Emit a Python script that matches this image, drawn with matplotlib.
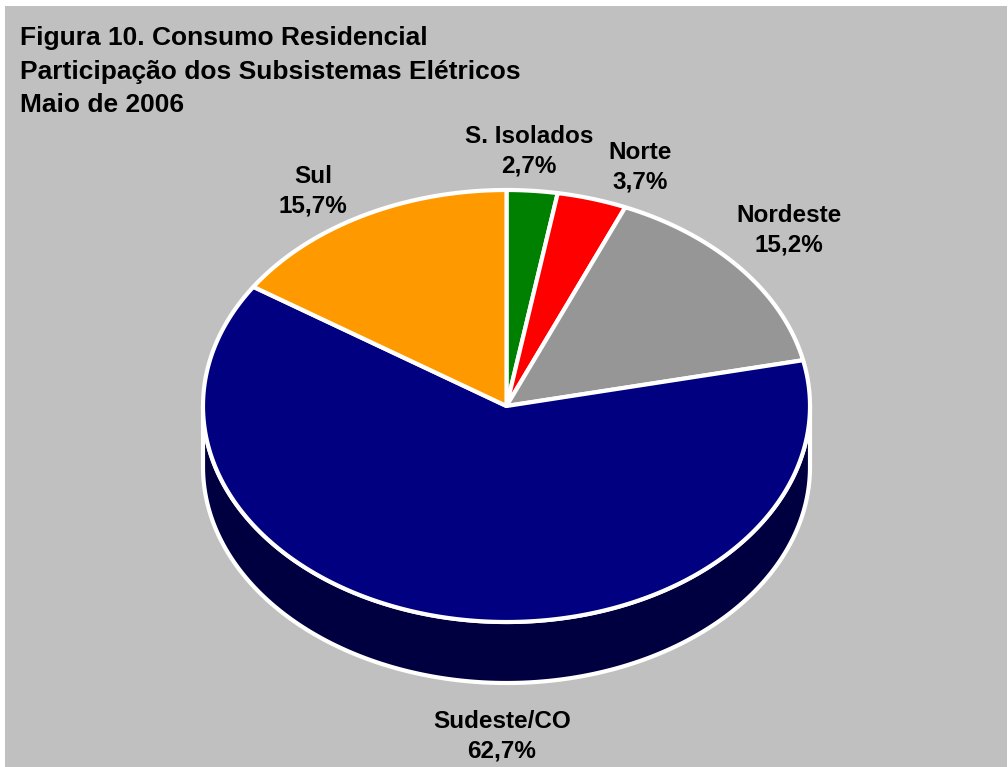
import numpy as np
import matplotlib
matplotlib.use("Agg")
import matplotlib.pyplot as plt
from matplotlib.patches import Polygon, Rectangle

# Residential consumption share by electric subsystem, May 2006
categories = ["S. Isolados", "Norte", "Nordeste", "Sudeste/CO", "Sul"]
shares = [2.7, 3.7, 15.2, 62.7, 15.7]
colors = ["#008000", "#FF0000", "#969696", "#000080", "#FF9900"]
side_colors = ["#004000", "#800000", "#4B4B4B", "#000040", "#804C00"]
title_lines = ["Figura 10. Consumo Residencial",
               "Participação dos Subsistemas Elétricos",
               "Maio de 2006"]

# label anchors (pixel coordinates, y downward)
label_pos = [(529, 151), (640, 167), (789, 230), (502, 736), (313, 191)]

W, H = 1008, 767
fig = plt.figure(figsize=(W / 100, H / 100), dpi=100)
fig.patch.set_facecolor("white")
ax = fig.add_axes([0, 0, 1, 1])
ax.set_xlim(0, W)
ax.set_ylim(H, 0)
ax.axis("off")

ax.add_patch(Rectangle((5, 6), W - 6, H - 6, facecolor="#C0C0C0", edgecolor="none"))

plt.rcParams["font.family"] = ["Liberation Sans", "DejaVu Sans"]

cx, cy = 506.5, 406.0
R, r = 303.5, 216.0
depth = 61.0
lw = 3.0


def ell(theta_deg, dy=0.0):
    t = np.radians(theta_deg)
    return np.column_stack([cx + R * np.cos(t), cy - r * np.sin(t) + dy])


# wedge angle ranges: start at 12 o'clock, run clockwise
bounds = 90 - np.concatenate([[0], np.cumsum(shares)]) * 3.6
wedges = [(bounds[i + 1], bounds[i]) for i in range(len(shares))]

# side walls (only the front half, 180..360 degrees, is visible)
for (a0, a1), sc in zip(wedges, side_colors):
    for shift in (-360, 0, 360):
        lo = max(a0 + shift, 180)
        hi = min(a1 + shift, 360)
        if hi > lo:
            th = np.linspace(lo, hi, 200)
            top = ell(th)
            bot = ell(th[::-1], depth)
            ax.add_patch(Polygon(np.vstack([top, bot]), closed=True,
                                 facecolor=sc, edgecolor="white", linewidth=lw,
                                 joinstyle="round", zorder=2))

# top faces
for (a0, a1), c in zip(wedges, colors):
    th = np.linspace(a0, a1, 300)
    pts = np.vstack([[cx, cy], ell(th)])
    ax.add_patch(Polygon(pts, closed=True, facecolor=c, edgecolor="white",
                         linewidth=lw, joinstyle="round", zorder=3))

# labels
for name, val, (lx, ly) in zip(categories, shares, label_pos):
    txt = f"{name}\n{str(val).replace('.', ',')}%"
    ax.text(lx, ly, txt, ha="center", va="center", fontsize=17.5,
            fontweight="bold", color="black", linespacing=1.36, zorder=5)

# title
for i, line in enumerate(title_lines):
    ax.text(20, 38 + i * 33.5, line, ha="left", va="center", fontsize=19,
            fontweight="bold", color="black", zorder=5)

fig.savefig("out.png", dpi=100, facecolor=fig.get_facecolor())
